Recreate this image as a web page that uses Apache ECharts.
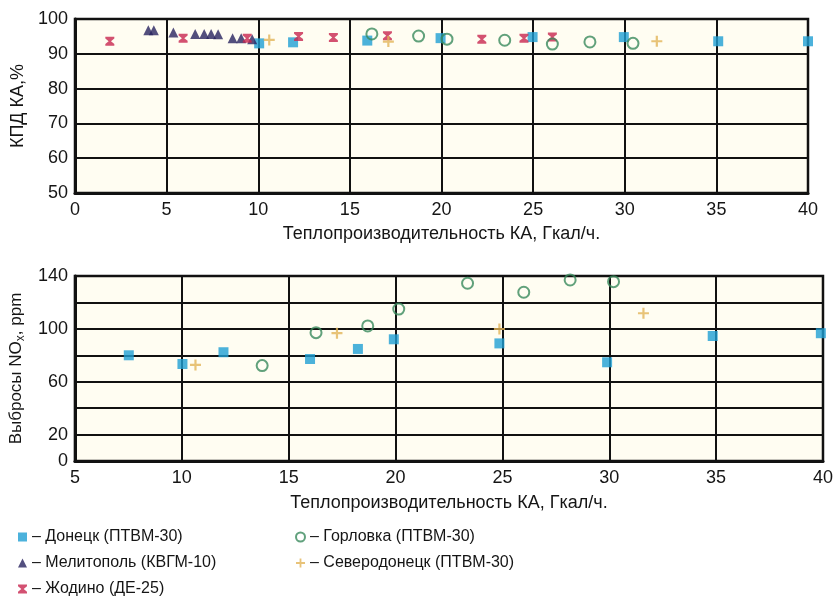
<!DOCTYPE html>
<html>
<head>
<meta charset="utf-8">
<script src="https://cdn.jsdelivr.net/npm/echarts@6/dist/echarts.min.js"></script>
<style>
  html, body { margin: 0; padding: 0; background: #fff; }
  #chart { width: 836px; height: 602px; }
</style>
</head>
<body>
<div id="chart"></div>
<script>
// названия серий
const names = ['Донецк (ПТВМ-30)', 'Мелитополь (КВГМ-10)', 'Жодино (ДЕ-25)', 'Горловка (ПТВМ-30)', 'Северодонецк (ПТВМ-30)']

// КПД КА, % (верхний график)
const donetskTop = [[10.05, 93], [11.9, 93.3], [15.95, 93.8], [19.95, 94.5], [24.97, 94.8], [29.95, 94.8], [35.1, 93.6], [40, 93.6]]
const melitopolTop = [[4.0, 96.8], [4.3, 96.8], [5.37, 96.1], [6.56, 95.7], [7.05, 95.7], [7.43, 95.7], [7.81, 95.6], [8.6, 94.5], [9.07, 94.5], [9.67, 94.2]]
const zhodinoTop = [[1.9, 93.6], [5.9, 94.5], [9.4, 94.5], [12.2, 95], [14.1, 94.7], [17.05, 95.2], [22.2, 94.2], [24.5, 94.5], [26.05, 94.8]]
const gorlovkaTop = [[16.2, 95.7], [18.75, 95.1], [20.3, 94.2], [23.45, 93.9], [26.05, 92.8], [28.1, 93.4], [30.45, 93]]
const severoTop = [[10.6, 94], [17.1, 93.5], [31.75, 93.6]]

// Выбросы NOx, ppm (нижний график)
const donetskBot = [[7.52, 80], [10.03, 73.4], [11.95, 82.3], [16.0, 77.2], [18.24, 84.8], [19.92, 92.1], [24.86, 89], [29.9, 74.7], [34.84, 94.6], [39.9, 96.7]]
const gorlovkaBot = [[13.76, 72.2], [16.28, 97.1], [18.7, 102.2], [20.15, 115], [23.37, 134.5], [26.0, 127.7], [28.17, 137], [30.2, 135.7]]
const severoBot = [[10.64, 72.7], [17.26, 96.7], [24.86, 99.9], [31.6, 111.8]]

// подписи делений
const yTicksBottom = [0, 20, 60, 100, 140]

const chart = echarts.init(document.getElementById('chart'))

const font = 'Liberation Sans, Arial, sans-serif'
const textColor = '#151515'

// маркеры
const sym = {
  donetsk: { symbol: 'rect', size: 10, style: { color: '#1f9fd3' } },
  melitopol: { symbol: 'triangle', size: 10, style: { color: '#28235f' } },
  zhodino: {
    symbol: 'path://M0,0L10,0L10,2L6.3,5L10,8L10,10L0,10L0,8L3.7,5L0,2Z',
    size: 9,
    style: { color: '#c8254f' }
  },
  gorlovka: {
    symbol: 'circle',
    size: 11,
    style: { color: 'rgba(255,255,255,0)', borderColor: '#3a8a5c', borderWidth: 2 }
  },
  severo: {
    symbol: 'path://M4,0L6,0L6,4L10,4L10,6L6,6L6,10L4,10L4,6L0,6L0,4L4,4Z',
    size: 11,
    style: { color: '#e2b458' }
  }
}

function scatter(name, s, data, idx) {
  return {
    type: 'scatter',
    name: name,
    xAxisIndex: idx,
    yAxisIndex: idx,
    symbol: s.symbol,
    symbolSize: s.size,
    itemStyle: s.style,
    clip: false,
    data: data
  }
}

const axisLabelStyle = { color: textColor, fontFamily: font, fontSize: 18 }
const nameStyle = { color: textColor, fontFamily: font, fontSize: 18 }
const splitLineStyle = { show: true, lineStyle: { color: '#111', width: 2 } }
const legendText = { color: textColor, fontFamily: font, fontSize: 16, lineHeight: 16 }

const options = {
  animation: false,
  backgroundColor: '#fff',
  grid: [
    { left: 75, top: 19, width: 733, height: 174, show: true, backgroundColor: '#fffdf2', borderColor: '#111', borderWidth: 2.5 },
    { left: 74, top: 276, width: 751, height: 185, show: true, backgroundColor: '#fffdf2', borderColor: '#111', borderWidth: 2.5 }
  ],
  xAxis: [
    {
      gridIndex: 0,
      type: 'value',
      min: 0,
      max: 40,
      interval: 5,
      name: 'Теплопроизводительность КА, Гкал/ч.',
      nameLocation: 'middle',
      nameGap: 32,
      nameTextStyle: nameStyle,
      axisLine: { show: true, lineStyle: { color: '#111', width: 3 } },
      axisTick: { show: false },
      axisLabel: Object.assign({ margin: 8 }, axisLabelStyle),
      splitLine: splitLineStyle
    },
    {
      gridIndex: 1,
      type: 'value',
      min: 5,
      max: 40,
      interval: 5,
      name: 'Теплопроизводительность КА, Гкал/ч.',
      nameLocation: 'middle',
      nameGap: 33,
      nameTextStyle: nameStyle,
      axisLine: { show: true, lineStyle: { color: '#111', width: 3 } },
      axisTick: { show: false },
      axisLabel: Object.assign({ margin: 8 }, axisLabelStyle),
      splitLine: splitLineStyle
    }
  ],
  yAxis: [
    {
      gridIndex: 0,
      type: 'value',
      min: 50,
      max: 100,
      interval: 10,
      name: 'КПД КА,%',
      nameLocation: 'middle',
      nameGap: 46,
      nameTextStyle: nameStyle,
      axisLine: { show: true, lineStyle: { color: '#111', width: 3 } },
      axisTick: { show: false },
      axisLabel: Object.assign({ margin: 7 }, axisLabelStyle),
      splitLine: splitLineStyle
    },
    {
      gridIndex: 1,
      type: 'value',
      min: 0,
      max: 140,
      interval: 20,
      name: '{a|Выбросы NO}{sub|x}{a|, ppm}',
      nameLocation: 'middle',
      nameGap: 46,
      nameTextStyle: {
        color: textColor,
        fontFamily: font,
        fontSize: 17,
        rich: {
          a: { color: textColor, fontFamily: font, fontSize: 17 },
          sub: { color: textColor, fontFamily: font, fontSize: 12, verticalAlign: 'bottom', padding: [9, 0, 0, 0] }
        }
      },
      axisLine: { show: true, lineStyle: { color: '#111', width: 3 } },
      axisTick: { show: false },
      axisLabel: Object.assign({
        margin: 7,
        formatter: (v) => (yTicksBottom.indexOf(v) >= 0 ? String(v) : '')
      }, axisLabelStyle),
      splitLine: splitLineStyle
    }
  ],
  legend: [
    {
      orient: 'vertical',
      left: 18,
      top: 529,
      padding: 0,
      itemGap: 10,
      itemWidth: 9,
      itemHeight: 9,
      data: [names[0], names[1], names[2]],
      formatter: (n) => '– ' + n,
      textStyle: legendText
    },
    {
      orient: 'vertical',
      left: 295,
      top: 529,
      padding: 0,
      itemGap: 10,
      itemWidth: 9,
      itemHeight: 9,
      data: [names[3], names[4]],
      formatter: (n) => '– ' + n,
      textStyle: legendText
    }
  ],
  series: [
    scatter(names[0], sym.donetsk, donetskTop, 0),
    scatter(names[1], sym.melitopol, melitopolTop, 0),
    scatter(names[2], sym.zhodino, zhodinoTop, 0),
    scatter(names[3], sym.gorlovka, gorlovkaTop, 0),
    scatter(names[4], sym.severo, severoTop, 0),
    scatter(names[0], sym.donetsk, donetskBot, 1),
    scatter(names[3], sym.gorlovka, gorlovkaBot, 1),
    scatter(names[4], sym.severo, severoBot, 1)
  ]
}

options && chart.setOption(options, true)
</script>
</body>
</html>
